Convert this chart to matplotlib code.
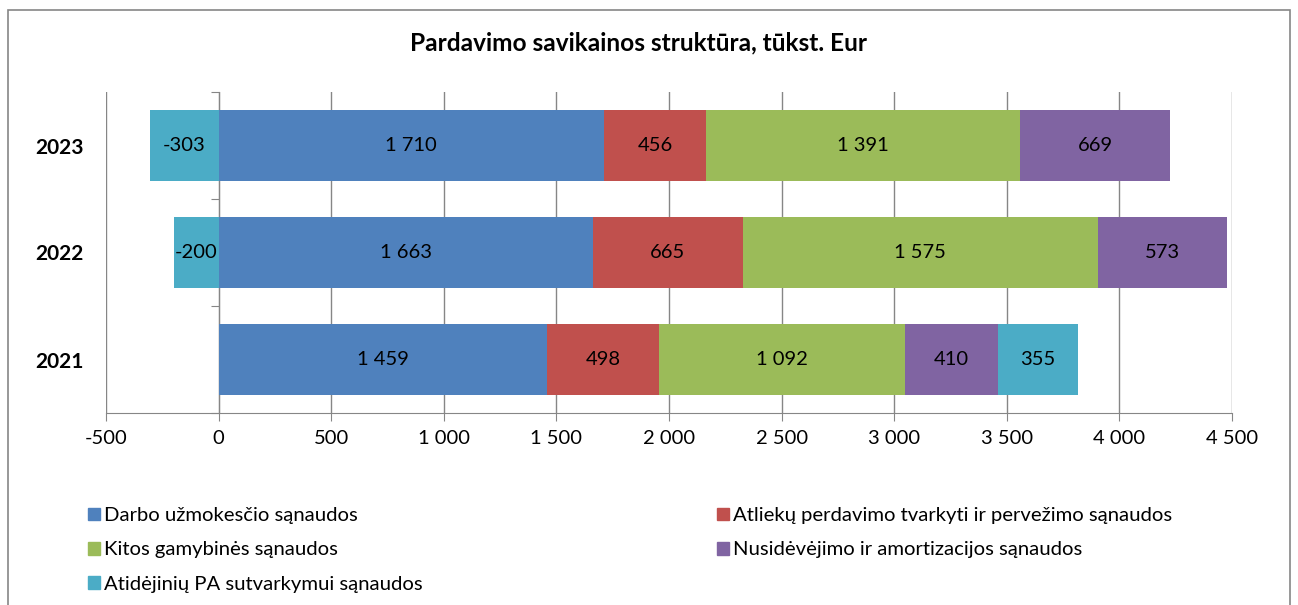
import matplotlib.pyplot as plt
from matplotlib.patches import Rectangle, Patch
from matplotlib.ticker import FuncFormatter

years = ['2021', '2022', '2023']
series_names = ['Darbo užmokesčio sąnaudos',
                'Atliekų perdavimo tvarkyti ir pervežimo sąnaudos',
                'Kitos gamybinės sąnaudos',
                'Nusidėvėjimo ir amortizacijos sąnaudos',
                'Atidėjinių PA sutvarkymui sąnaudos']
darbo = [1459, 1663, 1710]
atlieku = [498, 665, 456]
kitos = [1092, 1575, 1391]
nusidevejimo = [410, 573, 669]
atidejiniu = [355, -200, -303]
colors = ['#4F81BD', '#C0504D', '#9BBB59', '#8064A2', '#4BACC6']

plt.rcParams['font.family'] = ['Lato', 'DejaVu Sans']

def fmt(v):
    return '{:,.0f}'.format(v).replace(',', ' ')

fig = plt.figure(figsize=(12.98, 6.05), dpi=100)
ax = fig.add_axes([106/1298, 1-413/605, 1126/1298, 321/605])

# stacked bars, positives to the right, negatives to the left of 0
pos = [0]*len(years)
neg = [0]*len(years)
handles = []
for name, vals, c in zip(series_names, [darbo, atlieku, kitos, nusidevejimo, atidejiniu], colors):
    lefts = []
    for i, v in enumerate(vals):
        if v >= 0:
            lefts.append(pos[i]); pos[i] += v
        else:
            lefts.append(neg[i]); neg[i] += v
    bars = ax.barh(range(len(years)), vals, left=lefts, height=0.67, color=c, zorder=3)
    ax.bar_label(bars, labels=[fmt(v) for v in vals], label_type='center', fontsize=14.5, zorder=4)
    handles.append(Patch(color=c, label=name))

ax.set_xlim(-500, 4500)
ax.set_ylim(-0.5, 2.5)
ax.set_xticks(range(-500, 4501, 500))
ax.xaxis.set_major_formatter(FuncFormatter(lambda v, p: fmt(v)))
ax.tick_params(axis='x', labelsize=14.5, length=6, color='#868686', pad=6)
ax.grid(axis='x', color='#868686', linewidth=1, zorder=0)
ax.set_yticks(range(len(years)))
ax.set_yticklabels(years, fontsize=15, fontweight='bold')
ax.tick_params(axis='y', length=0, pad=16)
for s in ['top', 'right', 'left']:
    ax.spines[s].set_visible(False)
ax.spines['bottom'].set_color('#868686')

# vertical axis line at 0 with category ticks
x0 = (0 - ax.get_xlim()[0]) / (ax.get_xlim()[1] - ax.get_xlim()[0])
sec = ax.secondary_yaxis(x0)
sec.set_yticks([-0.5, 0.5, 1.5, 2.5])
sec.set_yticklabels([])
sec.tick_params(length=6, color='#868686')
sec.spines['left'].set_color('#868686')

fig.text(638/1298, 1-43/605, 'Pardavimo savikainos struktūra, tūkst. Eur',
         ha='center', va='center', fontsize=17.6, fontweight='bold')

order = [0, 2, 4, 1, 3]
fig.legend([handles[i] for i in order], [series_names[i] for i in order],
           loc='upper left', bbox_to_anchor=(78/1298, 1-497/605), ncol=2,
           frameon=False, fontsize=14.6, handlelength=0.6, handleheight=0.6,
           handletextpad=0.2, labelspacing=0.85, columnspacing=14.5, borderpad=0)

fig.patches.append(Rectangle((8/1298, -0.05), 1282/1298, 1.05-10/605,
                             transform=fig.transFigure, fill=False,
                             edgecolor='#868686', linewidth=1.2))

fig.savefig('out.png', dpi=100)
